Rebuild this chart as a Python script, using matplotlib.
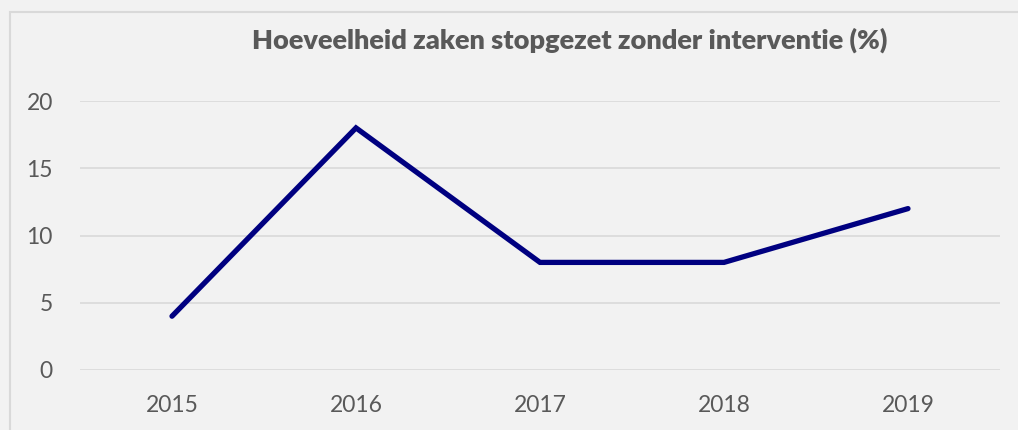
import matplotlib
matplotlib.use('Agg')
import matplotlib.pyplot as plt
from matplotlib.patches import Rectangle

years = ['2015', '2016', '2017', '2018', '2019']
values = [4, 18, 8, 8, 12]
yticks = [0, 5, 10, 15, 20]

plt.rcParams['font.family'] = ['Lato', 'DejaVu Sans']

W, H = 1018, 430
fig = plt.figure(figsize=(W / 100, H / 100), dpi=100)
fig.patch.set_facecolor('#f2f2f2')

# outer border (cut off at right and bottom like the reference)
fig.patches.append(Rectangle((10 / W, -0.1), 1.2, 1 - 12 / H + 0.1,
                             transform=fig.transFigure, fill=False,
                             edgecolor='#d9d9d9', linewidth=1.5))

ax = fig.add_axes([80 / W, (H - 370) / H, 920 / W, (370 - 101) / H])
ax.set_facecolor('#f2f2f2')
x = range(len(years))
ax.plot(x, values, color='#000080', linewidth=3.8, solid_capstyle='round',
        solid_joinstyle='miter', zorder=3)

ax.set_xlim(-0.5, len(years) - 0.5)
ax.set_ylim(0, 20)
ax.set_yticks(yticks)
ax.set_xticks(list(x))
ax.set_xticklabels(years)
ax.grid(axis='y', color='#d9d9d9', linewidth=1.2)
ax.set_axisbelow(True)
for s in ax.spines.values():
    s.set_visible(False)
ax.tick_params(length=0, labelsize=16.5, colors='#595959')
ax.tick_params(axis='y', pad=19.5)
ax.tick_params(axis='x', pad=18)

fig.text(570 / W, 1 - 40 / H, 'Hoeveelheid zaken stopgezet zonder interventie (%)',
         ha='center', va='center', fontsize=19.5, fontweight='heavy', color='#595959')

fig.savefig('out.png', dpi=100, facecolor=fig.get_facecolor())
